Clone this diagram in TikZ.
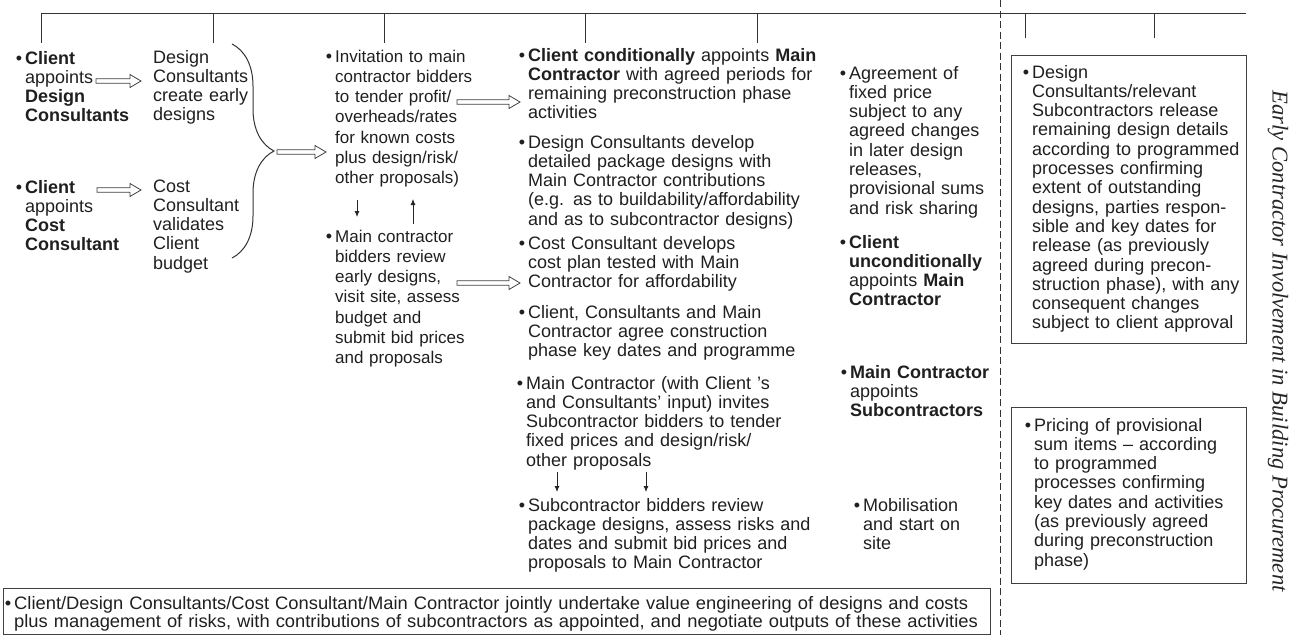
\documentclass[tikz,border=0pt]{standalone}
\usepackage{fontspec}
\setmainfont{Liberation Sans}
\newfontfamily\serifcap{Liberation Serif}
\newfontfamily\narrowsans[FakeStretch=1.02]{Liberation Sans}
\usetikzlibrary{arrows.meta}
\usetikzlibrary{calc}
\usetikzlibrary{decorations.pathreplacing}
\newcommand{\bul}{\leavevmode\llap{\raisebox{-0.5pt}{\fontsize{18}{18}\selectfont\textbullet}\hspace{3pt}}}
\tikzset{txt/.style = {anchor=base west, inner sep=0pt, align=left, text width=330pt,
                       text=black!88, font=\fontsize{18}{19.3}\selectfont},
         txtloose/.style = {txt, font=\fontsize{17}{20.3}\selectfont},
         box/.style = {draw=black!75, line width=1.2pt, anchor=north west, inner sep=0pt},
         timeline/.style = {draw=black!80, line width=1pt},
         hollow/.style = {draw=black!75, fill=white, line width=0.8pt,
                          to path={($(\tikztostart)+(0,2.3pt)$) -- ($(\tikztotarget)+(-11pt,2.3pt)$)
                                   -- ($(\tikztotarget)+(-11pt,6.5pt)$) -- (\tikztotarget)
                                   -- ($(\tikztotarget)+(-11pt,-6.5pt)$) -- ($(\tikztotarget)+(-11pt,-2.3pt)$)
                                   -- ($(\tikztostart)+(0,-2.3pt)$) -- cycle}},
         down/.style = {draw=black!85, line width=0.8pt, -{Latex[length=6pt,width=5pt]}}}
\begin{document}
\begin{tikzpicture}[x=1pt, y=-1pt]
      \useasboundingbox (0,0) rectangle (1303,635);
      % time line
      \draw [timeline] (41,13) -- (1246,13);
      \foreach \x in {41,213,384,585,757}
        \draw [timeline] (\x,13) -- (\x,43);
      \foreach \x in {1025,1154}
        \draw [timeline] (\x,13) -- (\x,38);
      \draw [black!80, line width=0.9pt, dash pattern=on 7pt off 3.5pt] (1000,0) -- (1000,635);

      % first stage
      \node [txt] (clientdc) at (25,64) {\bul\textbf{Client}\\appoints\\\textbf{Design}\\\textbf{Consultants}};
      \node [txt] (earlydes) at (153,63) {Design\\Consultants\\create early\\designs};
      \node [txt] (clientcc) at (25,193) {\bul\textbf{Client}\\appoints\\\textbf{Cost}\\\textbf{Consultant}};
      \node [txt] (budget) at (153,192) {Cost\\Consultant\\validates\\Client\\budget};
      \coordinate (dcs) at (96,81);
      \coordinate (dce) at (141,81);
      \coordinate (ccs) at (97,190);
      \coordinate (cce) at (141,190);
      \draw [hollow] (dcs) to (dce);
      \draw [hollow] (ccs) to (cce);
      \draw [black!80, line width=1pt, decorate, decoration={brace, amplitude=42pt}] (232,44) -- (232,258);
      \coordinate (brs) at (277,152);
      \coordinate (bre) at (326,152);
      \draw [hollow] (brs) to (bre);

      % main contractor tender
      \node [txtloose] (invite) at (335,62) {\bul Invitation to main\\contractor bidders\\to tender profit/\\overheads/rates\\for known costs\\plus design/risk/\\other proposals)};
      \node [txtloose] (mcreview) at (335,242) {\bul Main contractor\\bidders review\\early designs,\\visit site, assess\\budget and\\submit bid prices\\and proposals};
      \coordinate (dnt) at (357,200);
      \coordinate (dnb) at (357,217);
      \coordinate (upb) at (413,224);
      \coordinate (upt) at (413,199);
      \draw [down] (dnt) -- (dnb);
      \draw [down] (upb) -- (upt);
      \coordinate (ivs) at (457,102);
      \coordinate (ive) at (520,102);
      \coordinate (rvs) at (457,283);
      \coordinate (rve) at (520,283);
      \draw [hollow] (ivs) to (ive);
      \draw [hollow] (rvs) to (rve);

      % preconstruction phase
      \node [txt] (condappt) at (528,61) {\bul\textbf{Client conditionally} appoints \textbf{Main}\\\textbf{Contractor} with agreed periods for\\remaining preconstruction phase\\activities};
      \node [txt] (pkgdes) at (528,148) {\bul Design Consultants develop\\detailed package designs with\\Main Contractor contributions\\(e.g. as to buildability/affordability\\and as to subcontractor designs)};
      \node [txt] (costplan) at (528,249) {\bul Cost Consultant develops\\cost plan tested with Main\\Contractor for affordability};
      \node [txt] (keydates) at (528,318) {\bul Client, Consultants and Main\\Contractor agree construction\\phase key dates and programme};
      \node [txt] (subinv) at (526,389) {\bul Main Contractor (with Client 's\\and Consultants' input) invites\\Subcontractor bidders to tender\\fixed prices and design/risk/\\other proposals};
      \node [txt] (subrev) at (528,511) {\bul Subcontractor bidders review\\package designs, assess risks and\\dates and submit bid prices and\\proposals to Main Contractor};
      \coordinate (sat) at (557,472);
      \coordinate (sab) at (557,492);
      \coordinate (sbt) at (646,472);
      \coordinate (sbb) at (646,492);
      \draw [down] (sat) -- (sab);
      \draw [down] (sbt) -- (sbb);

      % fixed price and appointments
      \node [txt] (fixprice) at (849,79) {\bul Agreement of\\fixed price\\subject to any\\agreed changes\\in later design\\releases,\\provisional sums\\and risk sharing};
      \node [txt] (uncond) at (849,248) {\bul\textbf{Client}\\\textbf{unconditionally}\\appoints \textbf{Main}\\\textbf{Contractor}};
      \node [txt] (subappt) at (850,378) {\bul\textbf{Main Contractor}\\appoints\\\textbf{Subcontractors}};
      \node [txt] (mobilise) at (863,511) {\bul Mobilisation\\and start on\\site};

      % construction phase
      \node [box, minimum width=235pt, minimum height=288pt] (relbox) at (1011,55) {};
      \node [txt] (release) at (1032,78) {\bul Design\\Consultants/relevant\\Subcontractors release\\remaining design details\\according to programmed\\processes confirming\\extent of outstanding\\designs, parties respon-\\sible and key dates for\\release (as previously\\agreed during precon-\\struction phase), with any\\consequent changes\\subject to client approval};
      \node [box, minimum width=235pt, minimum height=176pt] (psbox) at (1011,407) {};
      \node [txt] (provsum) at (1034,431) {\bul Pricing of provisional\\sum items – according\\to programmed\\processes confirming\\key dates and activities\\(as previously agreed\\during preconstruction\\phase)};

      % value engineering
      \node [box, minimum width=987pt, minimum height=46pt] (vebox) at (3,588) {};
      \node [txt, text width=1000pt, font=\narrowsans\fontsize{18}{18}\selectfont] (valeng) at (14,609) {\bul Client/Design Consultants/Cost Consultant/Main Contractor jointly undertake value engineering of designs and costs\\plus management of risks, with contributions of subcontractors as appointed, and negotiate outputs of these activities};

      \node [rotate=-90, inner sep=0pt, text=black!85, font=\serifcap\itshape\fontsize{22.6}{22.6}\selectfont] (title) at (1278,341) {Early Contractor Involvement in Building Procurement};
    \end{tikzpicture}
\end{document}
